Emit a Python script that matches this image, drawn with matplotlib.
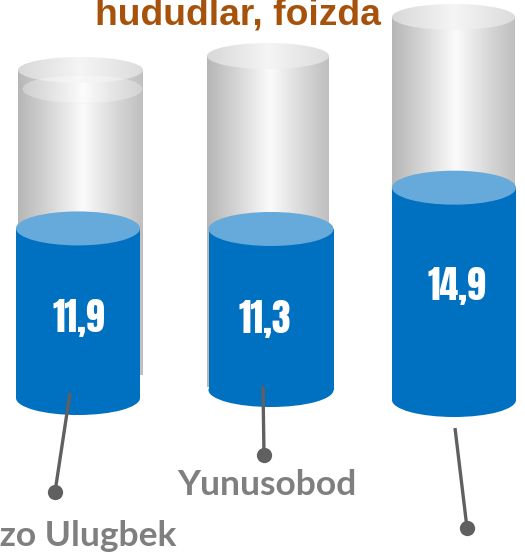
import matplotlib
matplotlib.use("Agg")
import matplotlib.pyplot as plt
import numpy as np
from matplotlib.patches import Rectangle, Ellipse
from matplotlib.colors import LinearSegmentedColormap

# ---------------- data ----------------
categories = ["Mirzo Ulugbek", "Yunusobod", ""]
values = [11.9, 11.3, 14.9]
value_labels = ["11,9", "11,3", "14,9"]
title_text = "hududlar, foizda"

# ---------------- layout (pixel coordinates) ----------------
W, H = 525, 556
PX_PER_UNIT = 14.25
blue_cx = [78, 271, 454]
blue_w = [124, 125, 124]
blue_base = [398, 390, 400]
ry_blue = 17
tube_x0 = [18, 207, 392]
tube_x1 = [143, 329, 515]
tube_top = [70, 56, 17]
tube_bot = [375, 387, 395]
ry_tube = 13
value_xy = [(79, 332), (265, 333), (457, 300)]
lead_start = [(70, 393), (263, 386), (455, 428)]
lead_end = [(55, 492), (264, 455), (467, 528)]
label_pos = [(60, 546), (267, 495), (467, 585)]

fig = plt.figure(figsize=(W / 100, H / 100), dpi=100)
ax = fig.add_axes([0, 0, 1, 1])

tube_cmap = LinearSegmentedColormap.from_list(
    "tube", [(0, "#b6b6b6"), (0.22, "#d2d2d2"), (0.52, "#fbfbfb"),
             (0.8, "#d6d6d6"), (1, "#bfbfbf")])
cap_cmap = LinearSegmentedColormap.from_list(
    "cap", [(0, "#d8d8d8"), (0.5, "#f5f5f5"), (1, "#dcdcdc")])
grad = np.linspace(0, 1, 256).reshape(1, -1)

value_font = ["Anton", "Oswald", "Fira Sans Extra Condensed",
              "Fira Sans Condensed", "DejaVu Sans"]


def grad_fill(patch, cmap, x0, x1, y0, y1, z):
    patch.set_facecolor("none")
    patch.set_edgecolor("none")
    ax.add_patch(patch)
    im = ax.imshow(grad, cmap=cmap, extent=(x0, x1, y1, y0), aspect="auto",
                   zorder=z, interpolation="bilinear")
    im.set_clip_path(patch)


for i, v in enumerate(values):
    # glass tube
    x0, x1 = tube_x0[i], tube_x1[i]
    tw = x1 - x0
    tcx = (x0 + x1) / 2
    body = Rectangle((x0, tube_top[i]), tw, tube_bot[i] - tube_top[i])
    grad_fill(body, tube_cmap, x0, x1, tube_top[i] - 20, tube_bot[i] + 5, 1)
    cap = Ellipse((tcx, tube_top[i]), tw, 2 * ry_tube)
    grad_fill(cap, cap_cmap, x0, x1, tube_top[i] - ry_tube - 2,
              tube_top[i] + ry_tube + 2, 2)
    if i == 0:
        ax.add_patch(Ellipse((tcx + 2, tube_top[i] + 19), tw - 6, 2 * ry_tube + 2,
                             facecolor="white", alpha=0.3,
                             edgecolor="#e9e9e9", lw=0.6, zorder=2.5))

    # blue liquid
    cx, w = blue_cx[i], blue_w[i]
    base = blue_base[i]
    top = base - v * PX_PER_UNIT
    ax.add_patch(Rectangle((cx - w / 2, top), w, base - top,
                           facecolor="#0070c0", edgecolor="none", zorder=3))
    ax.add_patch(Ellipse((cx, base), w, 2 * ry_blue,
                         facecolor="#0070c0", edgecolor="none", zorder=3))
    ax.add_patch(Ellipse((cx, top), w, 2 * ry_blue,
                         facecolor="#66a9db", edgecolor="none", zorder=4))
    vx, vy = value_xy[i]
    ax.text(vx, vy, value_labels[i], color="white",
            fontsize=27, fontweight="bold", family=value_font,
            ha="center", va="baseline", zorder=5)

    # leader line and dot
    (sx, sy), (ex, ey) = lead_start[i], lead_end[i]
    ax.plot([sx, ex], [sy, ey], color="#606060", lw=2.4,
            solid_capstyle="butt", zorder=6)
    ax.plot([ex], [ey], "o", color="#606060", ms=11, mec="none", zorder=6)

    # category label
    lx, ly = label_pos[i]
    ax.text(lx, ly, categories[i], color="#7f7f7f", fontsize=25.5,
            fontweight="bold", family=["Lato", "DejaVu Sans"],
            ha="center", va="baseline", zorder=5)

ax.text(238, 25, title_text, color="#a6520a", fontsize=26.8, fontweight="bold",
        family=["Liberation Sans", "DejaVu Sans"], ha="center", va="baseline")

ax.set_xlim(0, W)
ax.set_ylim(H, 0)
ax.axis("off")
fig.savefig("out.png", dpi=100)
